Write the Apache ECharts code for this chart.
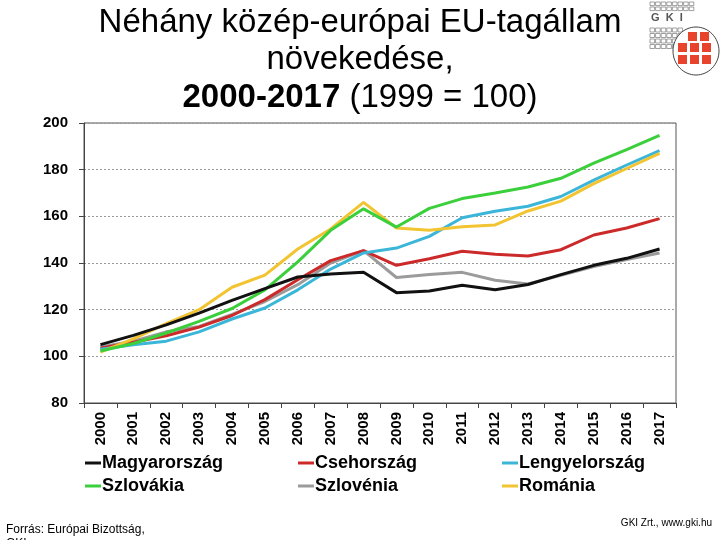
<!DOCTYPE html>
<html><head><meta charset="utf-8">
<script src="https://cdn.jsdelivr.net/npm/echarts@6/dist/echarts.min.js"></script>
<style>html,body{margin:0;padding:0;background:#fff}#c{width:720px;height:540px}</style>
</head><body><div id="c"></div>
<script>
const years = ['2000','2001','2002','2003','2004','2005','2006','2007','2008','2009','2010','2011','2012','2013','2014','2015','2016','2017'];
const yTicks = [80, 100, 120, 140, 160, 180, 200];
const magyarorszag  = [105, 109, 113.5, 118.5, 124, 129, 134, 135.3, 136, 127.3, 128, 130.5, 128.5, 130.8, 135, 139, 142, 146];
const csehorszag    = [103.5, 106, 108.8, 112.5, 117.5, 124.3, 132.8, 141, 145.3, 139, 141.8, 145, 143.8, 143, 145.7, 152, 155, 159];
const lengyelorszag = [103, 105, 106.5, 110.5, 116, 120.7, 128.5, 137.4, 144.3, 146.4, 151.4, 159.4, 162.2, 164.3, 168.5, 175.5, 182, 188.2];
const szlovakia     = [102.3, 105.5, 110, 115, 120.5, 128.5, 140.5, 154, 163.2, 155.4, 163.4, 167.6, 170, 172.6, 176.3, 182.8, 188.6, 194.7];
const szlovenia     = [104, 106.5, 110.5, 112.8, 118, 123.5, 130.7, 140, 145.3, 133.8, 135.1, 136, 132.6, 131, 134.7, 138.5, 141.5, 144.3];
const romania       = [101.8, 107.5, 114, 120, 129.6, 134.8, 146, 154.6, 166, 155, 154, 155.5, 156.3, 162.3, 166.5, 174, 180.5, 187];

const NARROW = "'Liberation Sans Narrow','Arial Narrow','Liberation Sans',Arial,sans-serif";
const SANS = "'Liberation Sans',Arial,sans-serif";

const seriesDefs = [
  {name:'Szlovénia', data:szlovenia, color:'#9b9b9b', lx:293, ly:484},
  {name:'Csehország', data:csehorszag, color:'#cc2a2a', lx:293, ly:461},
  {name:'Lengyelország', data:lengyelorszag, color:'#3bb6d9', lx:497, ly:461},
  {name:'Románia', data:romania, color:'#f2c431', lx:497, ly:484},
  {name:'Szlovákia', data:szlovakia, color:'#3ccf3c', lx:80, ly:484},
  {name:'Magyarország', data:magyarorszag, color:'#111111', lx:80, ly:461}
];

// logo graphics (decoration)
const logo = [];
for (let r = 0; r < 2; r++) for (let i = 0; i < 8; i++)
  logo.push({type:'rect', shape:{x:650+i*5.6, y:2+r*5, width:4.6, height:3.6}, style:{fill:'none', stroke:'#888', lineWidth:0.8}});
for (let r = 0; r < 4; r++) for (let i = 0; i < 6; i++)
  logo.push({type:'rect', shape:{x:650+i*5.6, y:28+r*5.5, width:4.6, height:4}, style:{fill:'none', stroke:'#888', lineWidth:0.8}});
logo.push({type:'text', x:651, y:12, style:{text:'G  K  I', font:"bold 11px "+SANS, fill:'#555'}});
logo.push({type:'ellipse', shape:{cx:696, cy:51, rx:23, ry:24}, style:{fill:'#fff', stroke:'#444', lineWidth:1}});
[[688,32],[700,32],[678,43],[690,43],[702,43],[678,55],[690,55],[702,55]].forEach(p=>{
  logo.push({type:'rect', shape:{x:p[0], y:p[1], width:9, height:9}, style:{fill:'#e8432c'}});
});

const option = {
  backgroundColor:'#fff',
  animation:false,
  title:{
    text:'Néhány közép-európai EU-tagállam\nnövekedése,\n{b|2000-2017} (1999 = 100)',
    left:'center', top:-1,
    textStyle:{fontFamily:SANS, fontSize:33, fontWeight:'normal', color:'#000', lineHeight:37.5,
      rich:{b:{fontFamily:SANS, fontSize:33, fontWeight:'bold', color:'#000', lineHeight:37.5}}}
  },
  grid:{left:84, right:44, top:123, bottom:137, show:true, borderColor:'#555', borderWidth:1},
  legend: seriesDefs.map(s=>({
    data:[s.name], left:s.lx, top:s.ly-12, icon:'rect', itemWidth:16, itemHeight:3, itemGap:0,
    textStyle:{fontFamily:SANS, fontWeight:'bold', fontSize:18, color:'#000', padding:[0,0,0,-4]}
  })),
  xAxis:{
    type:'category', data:years, boundaryGap:true,
    axisLine:{lineStyle:{color:'#444', width:1}},
    axisTick:{show:true, length:5, interval:0, lineStyle:{color:'#444'}},
    axisLabel:{rotate:90, interval:0, margin:9, fontFamily:SANS, fontWeight:'bold', fontSize:15, color:'#000'}
  },
  yAxis:{
    type:'value', min:80, max:200, interval:20,
    axisLine:{show:true, lineStyle:{color:'#444'}},
    axisTick:{show:true, length:5, lineStyle:{color:'#444'}},
    axisLabel:{margin:16, fontFamily:SANS, fontWeight:'bold', fontSize:15, color:'#000'},
    splitLine:{show:true, lineStyle:{color:'#999', type:[2,2], width:1}}
  },
  series: seriesDefs.map(s=>({
    name:s.name, type:'line', data:s.data, showSymbol:false, symbol:'none',
    lineStyle:{width:3, color:s.color}, itemStyle:{color:s.color}
  })),
  graphic: [
    {type:'text', left:6, top:524, style:{text:'Forrás: Európai Bizottság,', font:"12px "+SANS, fill:'#000'}},
    {type:'text', left:6, top:538, style:{text:'GKI', font:"12px "+SANS, fill:'#000'}},
    {type:'text', right:8, top:518, style:{text:'GKI Zrt., www.gki.hu', font:"10px "+SANS, fill:'#000'}}
  ].concat(logo)
};
const chart = echarts.init(document.getElementById('c'), null, {renderer:'canvas'});
chart.setOption(option);
</script></body></html>
